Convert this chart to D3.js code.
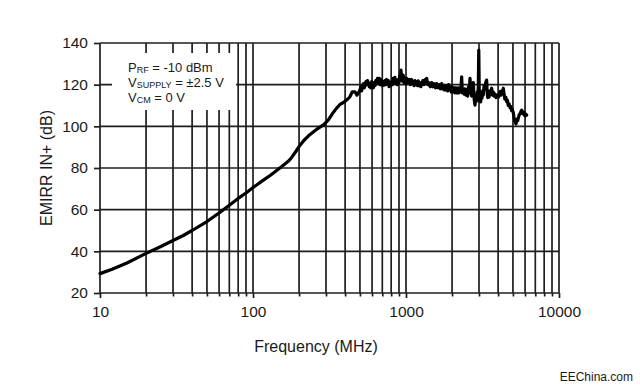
<!DOCTYPE html>
<html>
<head>
<meta charset="utf-8">
<script src="https://cdn.jsdelivr.net/npm/d3@7"></script>
<style>
  html, body { margin: 0; padding: 0; background: #fff; }
  svg { display: block; }
  text { font-family: "Liberation Sans", Arial, sans-serif; fill: #1a1a1a; }
</style>
</head>
<body>
<svg id="chart" width="640" height="391"></svg>
<script>
// ---- data ----
const freqMHz = [10,12,15,20,25,30,35,40,50,60,70,80,90,100,115,130,150,170,180,190,200,215,235,260,290,310,330,350,370,385,399,415,430,445,464,478,488,
500,507,513,520,527,534,540,547,553,560,567,575,582,590,597,605,612,620,627,635,643,651,659,668,676,685,693,702,711,720,729,738,747,757,766,776,786,796,806,816,826,836,847,858,869,880,891,900,910,918,927,935,944,952,960,972,985,997,
1010,1030,1050,1070,1088,1100,1115,1130,1144,1160,1173,1190,1203,1220,1234,1250,1265,1290,1310,1340,1364,1390,1410,1440,1471,1500,1530,1560,1587,1620,1650,1680,1711,1740,1760,1780,1799,1820,1844,1870,1900,1925,1950,1975,
2000,2030,2060,2090,2120,2160,2198,2220,2250,2280,2311,2335,2360,2400,2431,2460,2500,2530,2560,2590,2620,2650,2686,2720,2754,2790,2824,2850,2880,2925,2960,2990,
3010,3040,3076,3110,3140,3170,3199,3240,3280,3320,3366,3395,3420,3450,3490,3540,3580,3630,3670,3720,3770,3818,3880,3950,
4030,4114,4170,4220,4270,4325,4380,4430,4490,4550,4600,4660,4720,4785,4840,4900,4960,
5027,5080,5130,5180,5234,5280,5320,5370,5420,5490,5560,5630,5700,5750,5800,5850,5900,5950,6000,6080,6150];
const emirrDB = [29.3,31.4,34.4,39.0,42.3,45.2,47.6,50.0,54.3,58.4,62.1,65.4,68.0,70.6,73.8,76.5,80.0,83.2,85.3,87.8,90.3,93.2,96.0,98.5,100.8,103.0,106.0,108.5,110.5,111.2,112.0,113.0,114.2,116.5,116.6,115.0,116.0,
117.5,119.0,117.0,119.5,120.5,118.5,119.5,121.5,120.0,122.0,121.0,119.0,120.5,118.5,121.5,119.5,118.5,121.0,119.5,122.0,120.5,123.0,121.0,123.0,120.0,122.5,121.0,119.5,121.5,119.8,122.0,120.0,122.5,120.5,122.0,119.0,121.0,119.5,121.5,120.0,123.0,121.0,123.5,120.5,122.0,120.0,122.5,121.0,124.5,122.0,127.0,123.0,125.0,121.5,124.5,121.0,123.0,120.5,
123.0,121.0,122.5,120.0,122.5,120.5,121.5,119.5,122.0,120.0,121.5,119.5,121.8,119.5,121.0,119.0,120.5,122.0,120.0,122.5,123.0,120.0,121.0,119.0,121.0,119.0,120.5,118.5,120.5,118.5,120.0,118.0,120.5,118.0,119.5,117.5,119.5,117.5,119.5,117.0,120.0,117.5,119.0,116.5,
119.0,116.5,118.5,116.0,118.5,116.0,118.5,116.0,118.0,116.5,123.8,116.0,118.0,115.5,118.0,115.0,117.5,114.5,119.0,116.0,123.0,117.5,114.5,118.0,121.0,113.0,110.2,113.5,112.0,116.5,113.0,136.6,
118.0,112.0,111.8,115.5,113.5,117.0,115.0,119.5,118.0,121.0,122.2,116.0,113.8,115.5,114.0,117.0,116.0,118.3,115.0,116.5,114.5,115.5,113.8,115.0,
114.0,116.6,115.0,117.0,116.0,118.3,115.0,113.0,114.0,111.8,112.5,110.0,110.8,109.0,109.5,107.5,108.0,
106.5,104.5,103.0,102.0,101.2,102.5,103.5,102.8,104.0,105.5,106.0,107.0,107.8,106.5,106.0,107.0,106.5,105.5,105.0,105.8,105.4];

const xTickValues = [10, 100, 1000, 10000];
const yTickValues = [20, 40, 60, 80, 100, 120, 140];
const xDomain = [10, 10000];
const yDomain = [20, 140];

const legendMain = ["P", "V", "V"];
const legendSub = ["RF", "SUPPLY", "CM"];
const legendRest = [" = -10 dBm", " = \u00B12.5 V", " = 0 V"];

const xTitle = "Frequency (MHz)";
const yTitle = "EMIRR IN+ (dB)";
const watermark = "EEChina.com";

// ---- drawing ----
const svg = d3.select("#chart");
const pLeft = 100, pRight = 559, pTop = 43, pBottom = 293;

const x = d3.scaleLog().domain(xDomain).range([pLeft, pRight]);
const y = d3.scaleLinear().domain(yDomain).range([pBottom, pTop]);

// all log grid positions (1..9 per decade)
const xGrid = [];
for (let d = 10; d < 10000; d *= 10) {
  for (let k = 1; k <= 9; k++) xGrid.push(d * k);
}
xGrid.push(10000);

const gridColor = "#1e1e1e";
const grid = svg.append("g");
grid.selectAll("line.v").data(xGrid).join("line").attr("class", "v")
  .attr("x1", d => x(d)).attr("x2", d => x(d))
  .attr("y1", pTop).attr("y2", pBottom)
  .attr("stroke", gridColor).attr("stroke-width", 1.7);
grid.selectAll("line.h").data(yTickValues).join("line").attr("class", "h")
  .attr("x1", pLeft).attr("x2", pRight)
  .attr("y1", d => y(d)).attr("y2", d => y(d))
  .attr("stroke", gridColor).attr("stroke-width", 1.7);

// x axis ticks (below)
const xAxis = d3.axisBottom(x)
  .tickValues(xGrid)
  .tickSize(5)
  .tickPadding(8)
  .tickFormat(d => xTickValues.includes(d) ? d3.format("d")(d) : "");
const gx = svg.append("g").attr("transform", `translate(0,${pBottom})`).call(xAxis);
gx.select(".domain").remove();
gx.selectAll(".tick line").attr("stroke", gridColor).attr("stroke-width", 1.7)
  .attr("y2", d => xTickValues.includes(d) ? 5 : 3.5);
gx.selectAll(".tick text").attr("font-size", 15.5).attr("fill", "#1a1a1a")
  .attr("font-family", "Liberation Sans, Arial, sans-serif");

// y axis ticks (left)
const yAxis = d3.axisLeft(y).tickValues(yTickValues).tickSize(6).tickPadding(6);
const gy = svg.append("g").attr("transform", `translate(${pLeft},0)`).call(yAxis);
gy.select(".domain").remove();
gy.selectAll(".tick line").attr("stroke", gridColor).attr("stroke-width", 1.7);
gy.selectAll(".tick text").attr("font-size", 15.5).attr("fill", "#1a1a1a")
  .attr("font-family", "Liberation Sans, Arial, sans-serif");

// legend box (white, covering grid)
const lg = svg.append("g");
lg.append("rect").attr("x", 112).attr("y", 53).attr("width", 124).attr("height", 57)
  .attr("fill", "#fff");
legendMain.forEach((m, i) => {
  const t = lg.append("text").attr("x", 128).attr("y", 71.5 + i * 15).attr("font-size", 13);
  t.append("tspan").text(m);
  t.append("tspan").attr("font-size", 9).attr("dy", 1.5).text(legendSub[i]);
  t.append("tspan").attr("dy", -1.5).text(legendRest[i]);
});

// curve
const pts = freqMHz.map((f, i) => [f, emirrDB[i]]);
const line = d3.line().x(d => x(d[0])).y(d => y(d[1])).curve(d3.curveLinear);
svg.append("path").datum(pts).attr("d", line)
  .attr("fill", "none").attr("stroke", "#000").attr("stroke-width", 3.2)
  .attr("stroke-linejoin", "round").attr("stroke-linecap", "round");

// titles
svg.append("text").attr("x", 316).attr("y", 352).attr("text-anchor", "middle")
  .attr("font-size", 16).text(xTitle);
svg.append("text").attr("transform", "translate(52,168) rotate(-90)")
  .attr("text-anchor", "middle").attr("font-size", 16).text(yTitle);

// watermark
svg.append("text").attr("x", 633).attr("y", 381).attr("text-anchor", "end")
  .attr("font-size", 12).attr("font-family", "Liberation Sans, Arial, sans-serif")
  .text(watermark);
</script>
</body>
</html>
